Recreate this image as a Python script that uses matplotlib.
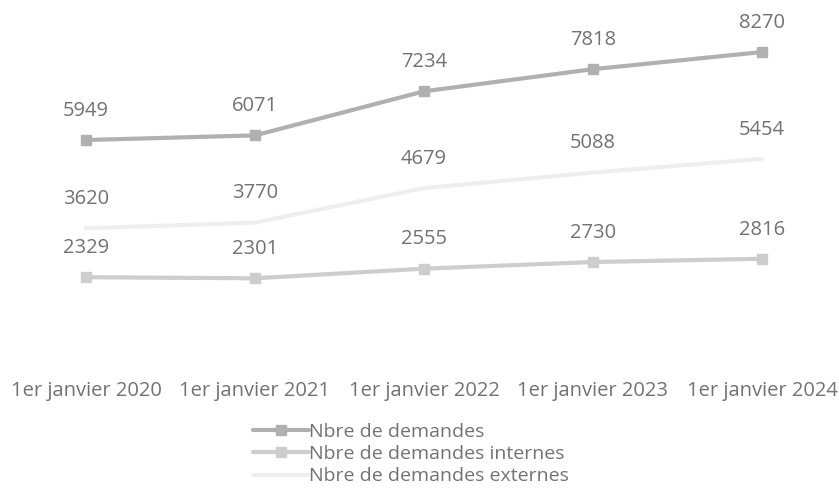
import matplotlib
matplotlib.use("Agg")
import matplotlib.pyplot as plt

categories = ["1er janvier 2020", "1er janvier 2021", "1er janvier 2022",
              "1er janvier 2023", "1er janvier 2024"]
total = [5949, 6071, 7234, 7818, 8270]
internes = [2329, 2301, 2555, 2730, 2816]
externes = [3620, 3770, 4679, 5088, 5454]

series_names = ["Nbre de demandes", "Nbre de demandes internes",
                "Nbre de demandes externes"]

plt.rcParams["font.family"] = ["Open Sans", "DejaVu Sans"]
TXT = "#727272"
FS = 14.5

fig = plt.figure(figsize=(8.39, 4.92), dpi=100)
ax = fig.add_axes([0, 1 - 365.5 / 492, 1, 365.5 / 492])
ax.set_facecolor("none")

x = list(range(len(categories)))
styles = [
    dict(color="#b0b0b0", marker="s"),
    dict(color="#cdcdcd", marker="s"),
    dict(color="#eeeeee", marker=None),
]
handles = []
for vals, name, st in zip([total, internes, externes], series_names, styles):
    h, = ax.plot(x, vals, color=st["color"], lw=3, marker=st["marker"],
                 markersize=7, markeredgecolor=st["color"],
                 solid_capstyle="round", label=name, zorder=3)
    handles.append(h)
    for xi, v in zip(x, vals):
        ax.annotate(f"{v}", (xi, v), xytext=(0, 21), textcoords="offset points",
                    ha="center", va="center", fontsize=FS, color=TXT)

ax.set_xlim(-86 / 169, (839 - 86) / 169)
ax.set_ylim(0, 9643)
ax.set_yticks([])
ax.set_xticks(x)
ax.set_xticklabels(categories, fontsize=FS, color=TXT)
ax.tick_params(axis="x", length=0, pad=11)
for s in ax.spines.values():
    s.set_visible(False)

fig.legend(handles=handles, labels=series_names, loc="upper left",
           bbox_to_anchor=(245 / 839, 1 - 415 / 492), frameon=False,
           fontsize=14, labelcolor=TXT, handlelength=2.9, handletextpad=0.0,
           labelspacing=0.22, borderaxespad=0)

fig.savefig("out.png", dpi=100)
